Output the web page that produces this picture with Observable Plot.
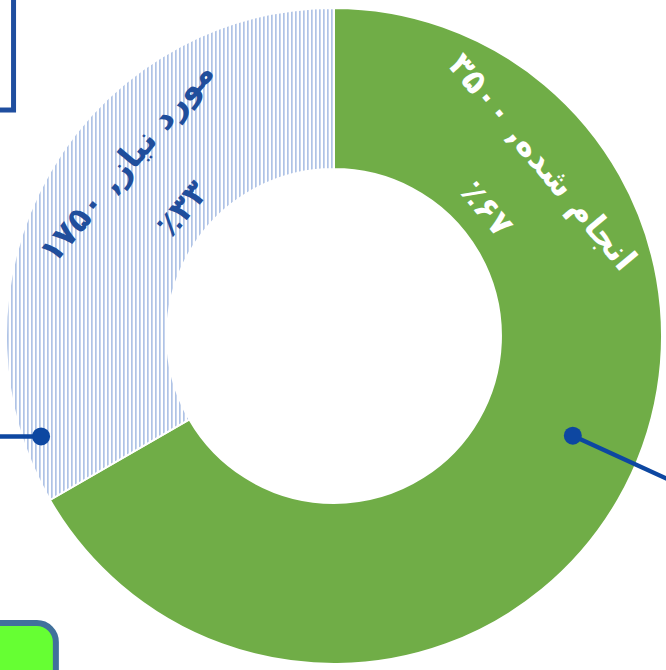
<!DOCTYPE html>
<html><head><meta charset="utf-8">
<script src="https://cdn.jsdelivr.net/npm/d3@7"></script>
<script src="https://cdn.jsdelivr.net/npm/@observablehq/plot@0.6"></script>
<style>
html,body{margin:0;padding:0;background:#fff;overflow:hidden;}
#chart svg text{direction:rtl;}
</style></head><body><div id="chart"></div>
<script>
// ---- data ----
const categories = ["انجام شده", "مورد نیاز"];
const values = [3500, 1750];
const sliceFills = ["#70ad47", "url(#hatch)"];
const labelColors = ["#ffffff", "#1f4e9c"];
// leader lines (annotation): anchor angle (deg, clockwise from top), anchor radius (fraction of outer), direction, length
const callouts = [
  {angle: 112.6, r: 0.787, dir: 114.6, len: 0.6},
  {angle: 251.2, r: 0.945, dir: 270, len: 0.5}
];
// partially visible frames around the chart (annotation boxes)
const boxTopLeft = [{x1: -1.4, x2: -0.977, y1: 0.689, y2: 1.4}];
const boxBottomLeft = [{x1: -1.4, x2: -0.848, y1: -1.4, y2: -0.875}];

// ---- derived ----
const fa = s => String(s).replace(/\d/g, d => "۰۱۲۳۴۵۶۷۸۹"[d]);
const total = d3.sum(values);
const arcs = d3.pie().sort(null)(values);
const innerRatio = 0.509;
const labelAngle = 50;      // degrees away from the shared top boundary
const rad = a => a * Math.PI / 180;

const labels = [];
arcs.forEach((a, i) => {
  const sign = i === 0 ? 1 : -1;
  const ang = sign * labelAngle;
  const pct = Math.round(values[i] / total * 100);
  const lines = [`${categories[i]}, ${fa(values[i])}`, `٪${fa(pct)}`];
  const radii = [0.826, 0.605];
  lines.forEach((t, j) => labels.push({
    x: radii[j] * Math.sin(rad(ang)),
    y: radii[j] * Math.cos(rad(ang)),
    text: t, rotate: ang, fill: labelColors[i]
  }));
});

const leaders = callouts.map(c => {
  const x1 = c.r * Math.sin(rad(c.angle)), y1 = c.r * Math.cos(rad(c.angle));
  return {x1, y1, x2: x1 + c.len * Math.sin(rad(c.dir)), y2: y1 + c.len * Math.cos(rad(c.dir))};
});

function donut(index, scales) {
  const cx0 = scales.x(0), cy0 = scales.y(0), R = scales.x(1) - cx0;
  const g = d3.create("svg:g");
  const p = g.append("defs").append("pattern")
    .attr("id", "hatch").attr("patternUnits", "userSpaceOnUse")
    .attr("width", 4).attr("height", 4);
  p.append("rect").attr("width", 4).attr("height", 4).attr("fill", "#fff");
  p.append("rect").attr("x", 1).attr("width", 1.7).attr("height", 4).attr("fill", "#afc3e6");
  const arc = d3.arc().innerRadius(R * innerRatio).outerRadius(R);
  g.append("g").attr("transform", `translate(${cx0},${cy0})`)
    .selectAll("path").data(arcs).join("path")
    .attr("d", arc)
    .attr("fill", (d, i) => sliceFills[i])
    .attr("stroke", "#fff").attr("stroke-width", 2);
  return g.node();
}

const chart = Plot.plot({
  width: 666, height: 670, margin: 0,
  style: {overflow: "hidden", background: "#fff"},
  x: {domain: [-1, 1], range: [6, 662], axis: null},
  y: {domain: [-1, 1], range: [664, 8], axis: null},
  color: {type: "identity"},
  marks: [
    donut,
    Plot.rect(boxTopLeft, {x1: "x1", x2: "x2", y1: "y1", y2: "y2", fill: "#fff", stroke: "#1f4e9f", strokeWidth: 5}),
    Plot.rect(boxBottomLeft, {x1: "x1", x2: "x2", y1: "y1", y2: "y2", fill: "#66ff33", stroke: "#41719c", strokeWidth: 6, rx: 19}),
    Plot.link(leaders, {x1: "x1", y1: "y1", x2: "x2", y2: "y2", stroke: "#0d47a1", strokeWidth: 4.5}),
    Plot.dot(leaders, {x: "x1", y: "y1", r: 9, fill: "#0d47a1"}),
    Plot.text(labels, {x: "x", y: "y", text: "text", rotate: "rotate", fill: "fill",
      fontSize: 33, fontWeight: "bold", fontFamily: "DejaVu Sans"})
  ]
});
document.getElementById("chart").append(chart);
</script></body></html>
